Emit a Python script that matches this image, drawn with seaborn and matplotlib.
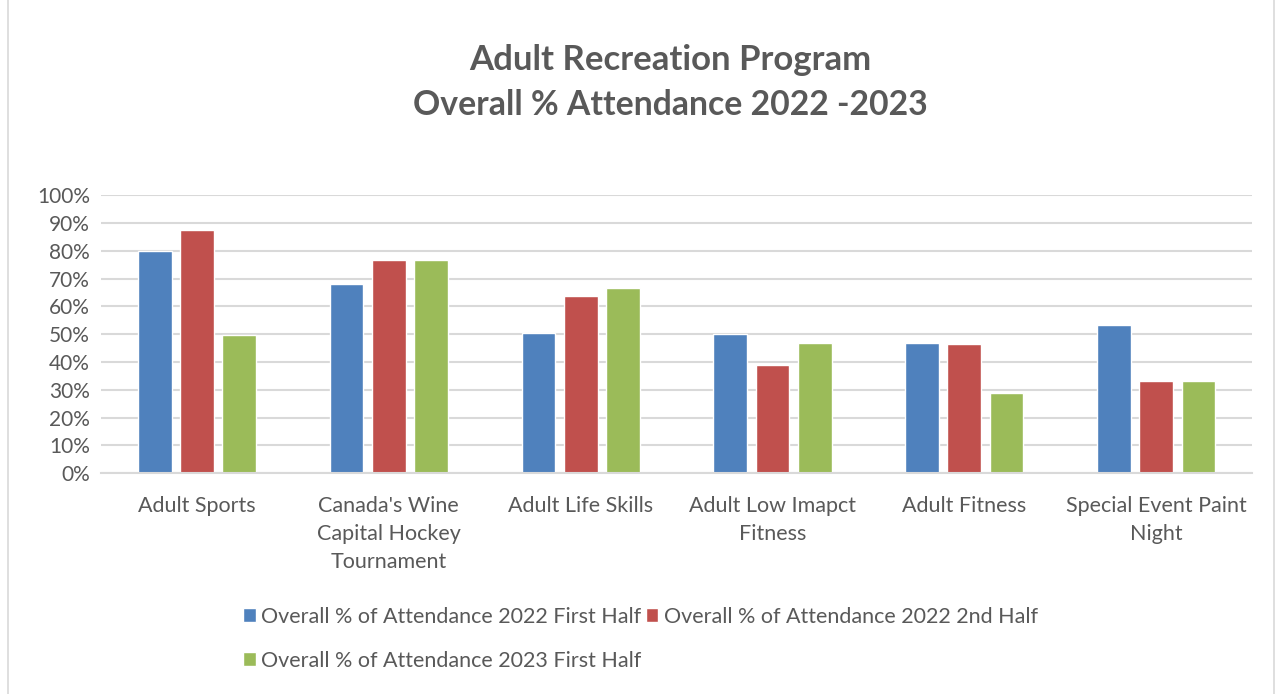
import pandas as pd
import numpy as np
import matplotlib
matplotlib.use('Agg')
import matplotlib.pyplot as plt
import seaborn as sns
from matplotlib.patches import Rectangle

# values (fraction of attendance)
programs = ["Adult Sports", "Canada's Wine\nCapital Hockey\nTournament", "Adult Life Skills",
            "Adult Low Imapct\nFitness", "Adult Fitness", "Special Event Paint\nNight"]
first_half_2022 = [0.80, 0.682, 0.504, 0.502, 0.469, 0.532]
second_half_2022 = [0.874, 0.766, 0.637, 0.389, 0.466, 0.333]
first_half_2023 = [0.497, 0.766, 0.665, 0.469, 0.289, 0.333]
series_names = ["Overall % of Attendance 2022 First Half",
                "Overall % of Attendance 2022 2nd Half",
                "Overall % of Attendance 2023 First Half"]
colors = ["#4F81BD", "#C0504D", "#9BBB59"]

rows = []
for name, vals in zip(series_names, [first_half_2022, second_half_2022, first_half_2023]):
    for p, v in zip(programs, vals):
        rows.append({'program': p, 'series': name, 'value': v})
df = pd.DataFrame(rows)

sns.set_style('white')
plt.rcParams['font.family'] = ['Lato', 'DejaVu Sans']
txt = '#595959'

fig = plt.figure(figsize=(12.79, 6.94), dpi=100)
ax = fig.add_axes([0.079, 0.318, 0.900, 0.401])

sns.barplot(data=df, x='program', y='value', hue='series', palette=colors,
            width=0.66, gap=0.2, ax=ax, legend=True, saturation=1)

ax.set_ylim(0, 1)
ax.set_yticks(np.arange(0, 1.01, 0.1))
ax.set_yticklabels([f'{int(round(t*100))}%' for t in np.arange(0, 1.01, 0.1)])
ax.yaxis.grid(True, color='#d9d9d9', lw=1.5)
ax.set_axisbelow(True)
for s in ['top', 'right', 'left']:
    ax.spines[s].set_visible(False)
ax.spines['bottom'].set_color('#d9d9d9')
ax.spines['bottom'].set_linewidth(1.5)
ax.tick_params(axis='y', length=0, labelsize=15, labelcolor=txt, pad=8)
ax.tick_params(axis='x', length=0, labelsize=15.5, labelcolor=txt, pad=16)
ax.set_xlabel('')
ax.set_ylabel('')
for lbl in ax.get_xticklabels():
    lbl.set_linespacing(1.5)
    lbl.set_verticalalignment('top')

handles, labels = ax.get_legend_handles_labels()
ax.legend_.remove()
order = [0, 2, 1]
fig.legend([handles[i] for i in order], [labels[i] for i in order],
           loc='upper left', bbox_to_anchor=(0.183, 0.138), ncol=2, frameon=False,
           fontsize=15.5, labelcolor=txt, handlelength=0.6, handleheight=0.6,
           handletextpad=0.25, columnspacing=0.2, labelspacing=1.1, borderaxespad=0)

fig.text(0.524, 0.913, 'Adult Recreation Program', ha='center', va='center',
         fontsize=25, fontweight='bold', color=txt)
fig.text(0.524, 0.848, 'Overall % Attendance 2022 -2023', ha='center', va='center',
         fontsize=24.3, fontweight='bold', color=txt)

fig.patches.append(Rectangle((0.006, -0.01), 0.99, 1.02, transform=fig.transFigure,
                             fill=False, edgecolor='#d9d9d9', lw=1.2))

fig.savefig('out.png', dpi=100)
